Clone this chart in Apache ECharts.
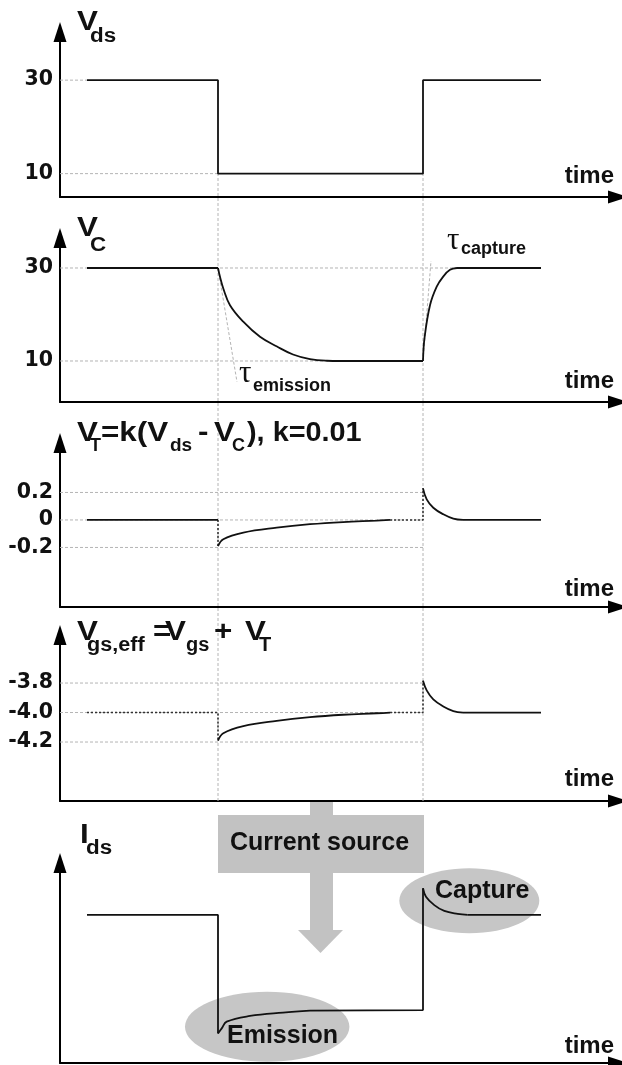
<!DOCTYPE html>
<html>
<head>
<meta charset="utf-8">
<script src="https://cdn.jsdelivr.net/npm/echarts@6/dist/echarts.min.js"></script>
<style>
  html, body { margin: 0; padding: 0; background: #fff; }
  #chart { width: 622px; height: 1065px; }
</style>
</head>
<body>
<div id="chart"></div>
<script>
// Shared time axis (arbitrary units)
const timeRange = [0, 109.6];

// V_ds: drain voltage pulse
const vdsTime  = [5.4, 31.6, 31.6, 72.6, 72.6, 96.2];
const vdsValue = [30, 30, 10, 10, 30, 30];
const vdsTicks = [10, 30];

// V_C: trap voltage following V_ds with emission / capture delays
const vcTime  = [5.4, 31.6, 32.0, 32.66, 34.0, 36.6, 40.0, 43.4, 46.6, 50.0, 53.4, 56.0, 72.6, 72.9, 74.0, 75.34, 76.6, 78.0, 79.4, 96.2];
const vcValue = [30, 30, 28.1, 25.6, 22.0, 18.5, 15.2, 13.1, 11.4, 10.4, 10.05, 10, 10, 14.9, 22.0, 26.0, 28.1, 29.6, 30, 30];
const vcTicks = [10, 30];
// tangents marking the time constants
const tauEmissionLine = [[31.6, 30], [35.4, 5.5]];
const tauCaptureLine  = [[72.6, 10], [74.2, 31.5]];

// V_T = k (V_ds - V_C)
const vtTime  = [5.4, 31.6, 31.6, 32.66, 36.66, 43.34, 50.0, 56.6, 63.34, 66.0, 72.6, 72.6, 73.34, 74.66, 76.66, 78.66, 80.6, 96.2];
const vtValue = [0, 0, -0.19, -0.14, -0.092, -0.056, -0.031, -0.015, -0.005, 0, 0, 0.23, 0.15, 0.089, 0.041, 0.01, 0, 0];
const vtTicks = [-0.2, 0, 0.2];

// V_gs,eff = V_gs + V_T
const vgsTime  = [5.4, 31.6, 31.6, 32.66, 36.66, 43.34, 50.0, 56.6, 63.34, 66.0, 72.6, 72.6, 73.34, 74.66, 76.66, 78.66, 80.6, 96.2];
const vgsValue = [-4, -4, -4.19, -4.14, -4.092, -4.056, -4.031, -4.015, -4.005, -4, -4, -3.785, -3.85, -3.911, -3.959, -3.99, -4, -4];
const vgsTicks = [-4.2, -4.0, -3.8];

// I_ds (arbitrary units)
const idsTime  = [5.4, 31.6, 31.6, 32.34, 33.34, 38.0, 44.6, 50.0, 72.6, 72.6, 73.2, 74.86, 76.86, 79.54, 81.54, 96.2];
const idsValue = [7.05, 7.05, 1.41, 1.65, 1.97, 2.24, 2.40, 2.49, 2.52, 8.32, 7.92, 7.52, 7.24, 7.10, 7.05, 7.05];

// ---- layout ----
const GRID_LEFT = 60, GRID_RIGHT = 14;
const panels = [
  { top: 42,  height: 155, yMin: 5,      yMax: 38.16,  ticks: vdsTicks, fmt: v => String(v) },
  { top: 248, height: 154, yMin: 1.18,   yMax: 34.3,   ticks: vcTicks,  fmt: v => String(v) },
  { top: 453, height: 154, yMin: -0.633, yMax: 0.487,  ticks: vtTicks,  fmt: v => v === 0 ? '0' : v.toFixed(1) },
  { top: 645, height: 156, yMin: -4.6,   yMax: -3.542, ticks: vgsTicks, fmt: v => v.toFixed(1) },
  { top: 873, height: 190, yMin: 0,      yMax: 9.048,  ticks: [],       fmt: v => '' }
];
const overlay = { top: 173.5, height: 627.5 }; // spans panels 1-4 for the switching guides

const INK = '#111';
const GUIDE = { color: '#b4b4b4', width: 1, type: [3, 2] };
const axisArrow = {
  show: true,
  onZero: false,
  symbol: ['none', 'triangle'],
  symbolSize: [13, 20],
  symbolOffset: [0, 10],
  lineStyle: { color: '#000', width: 2 }
};

const grids = [], xAxes = [], yAxes = [];
panels.forEach(p => {
  grids.push({ left: GRID_LEFT, right: GRID_RIGHT, top: p.top, height: p.height });
  xAxes.push({
    type: 'value', gridIndex: grids.length - 1, min: timeRange[0], max: timeRange[1],
    axisLine: axisArrow, axisTick: { show: false }, axisLabel: { show: false }, splitLine: { show: false }
  });
  yAxes.push({
    type: 'value', gridIndex: grids.length - 1, min: p.yMin, max: p.yMax,
    axisLine: axisArrow, axisTick: { show: false }, splitLine: { show: false },
    axisLabel: {
      show: p.ticks.length > 0,
      customValues: p.ticks,
      formatter: p.fmt,
      margin: 7,
      color: INK,
      fontFamily: '"DejaVu Sans", sans-serif',
      fontWeight: 'bold',
      fontSize: 20.5
    }
  });
});
grids.push({ left: GRID_LEFT, right: GRID_RIGHT, top: overlay.top, height: overlay.height });
xAxes.push({ type: 'value', gridIndex: 5, min: timeRange[0], max: timeRange[1], show: false });
yAxes.push({ type: 'value', gridIndex: 5, min: 0, max: 1, show: false });

// ---- series helpers ----
function pick(time, value, a, b) {
  const out = [];
  for (let i = a; i <= b; i++) out.push([time[i], value[i]]);
  return out;
}
function trace(gi, data, kind) {
  const dotted = kind === 'dotted';
  return {
    type: 'line', xAxisIndex: gi, yAxisIndex: gi, data,
    symbol: 'none', silent: true, animation: false,
    smooth: kind === 'curve' ? 0.4 : false,
    lineStyle: dotted ? { color: '#333', width: 1.6, type: [2, 2] } : { color: INK, width: 1.8 },
    z: dotted ? 3 : 4
  };
}
function guide(gi, data) {
  return {
    type: 'line', xAxisIndex: gi, yAxisIndex: gi, data,
    symbol: 'none', silent: true, animation: false, lineStyle: GUIDE, z: 1
  };
}

const series = [];
// guides
series.push(guide(0, [[timeRange[0], vdsTicks[1]], [vdsTime[0], vdsTicks[1]]]));
series.push(guide(0, [[timeRange[0], vdsTicks[0]], [vdsTime[2], vdsTicks[0]]]));
series.push(guide(1, [[timeRange[0], vcTicks[1]], [vcTime[18], vcTicks[1]]]));
series.push(guide(1, [[timeRange[0], vcTicks[0]], [vcTime[12], vcTicks[0]]]));
series.push(guide(1, tauEmissionLine));
series.push(guide(1, tauCaptureLine));
vtTicks.forEach(t => series.push(guide(2, [[timeRange[0], t], [vtTime[10], t]])));
vgsTicks.forEach(t => series.push(guide(3, [[timeRange[0], t], [vgsTime[10], t]])));
[vdsTime[1], vdsTime[3]].forEach(t => series.push(guide(5, [[t, 0], [t, 1]])));

// V_ds
series.push(trace(0, pick(vdsTime, vdsValue, 0, 5), 'solid'));
// V_C
series.push(trace(1, pick(vcTime, vcValue, 0, 1), 'solid'));
series.push(trace(1, pick(vcTime, vcValue, 1, 11), 'curve'));
series.push(trace(1, pick(vcTime, vcValue, 11, 12), 'solid'));
series.push(trace(1, pick(vcTime, vcValue, 12, 18), 'curve'));
series.push(trace(1, pick(vcTime, vcValue, 18, 19), 'solid'));
// V_T
series.push(trace(2, pick(vtTime, vtValue, 0, 1), 'solid'));
series.push(trace(2, pick(vtTime, vtValue, 1, 2), 'dotted'));
series.push(trace(2, pick(vtTime, vtValue, 2, 9), 'curve'));
series.push(trace(2, pick(vtTime, vtValue, 9, 11), 'dotted'));
series.push(trace(2, pick(vtTime, vtValue, 11, 16), 'curve'));
series.push(trace(2, pick(vtTime, vtValue, 16, 17), 'solid'));
// V_gs,eff
series.push(trace(3, pick(vgsTime, vgsValue, 0, 2), 'dotted'));
series.push(trace(3, pick(vgsTime, vgsValue, 2, 9), 'curve'));
series.push(trace(3, pick(vgsTime, vgsValue, 9, 11), 'dotted'));
series.push(trace(3, pick(vgsTime, vgsValue, 11, 16), 'curve'));
series.push(trace(3, pick(vgsTime, vgsValue, 16, 17), 'solid'));
// I_ds
series.push(trace(4, pick(idsTime, idsValue, 0, 2), 'solid'));
series.push(trace(4, pick(idsTime, idsValue, 2, 7), 'curve'));
series.push(trace(4, pick(idsTime, idsValue, 7, 9), 'solid'));
series.push(trace(4, pick(idsTime, idsValue, 9, 14), 'curve'));
series.push(trace(4, pick(idsTime, idsValue, 14, 15), 'solid'));

// ---- text and annotation shapes ----
const SANS = '"Liberation Sans", Arial, sans-serif';
const SERIF = '"Liberation Serif", "Times New Roman", serif';
function txt(str, x, y, size, opt) {
  opt = opt || {};
  const align = opt.align || 'left';
  return {
    type: 'text', x, y, z: 100, silent: true,
    scaleX: opt.sx || 1,
    style: {
      text: str, fill: INK,
      font: (opt.weight || 'bold') + ' ' + size + 'px ' + (opt.family || SANS),
      align, verticalAlign: 'middle', textAlign: align, textVerticalAlign: 'middle'
    }
  };
}
// axis titles are set slightly wide
const MAIN = 28, SUB = 20, W = { sx: 1.12 };
const graphics = [
  // V_ds
  txt('V', 77, 22.3, MAIN, W), txt('ds', 90, 36.1, SUB, W),
  // V_C
  txt('V', 77, 228.3, MAIN, W), txt('C', 90, 245.1, SUB, W),
  // V_T = k(V_ds - V_C), k=0.01
  txt('V', 77, 433.3, MAIN, W), txt('T', 90, 446.1, 18),
  txt('=k(V', 101, 433.3, MAIN, W), txt('ds', 170, 446.1, 19),
  txt('-', 198, 433.3, MAIN, W), txt('V', 214, 433.3, MAIN, W), txt('C', 232, 446.1, 18),
  txt('), k=0.01', 247, 433.3, MAIN, { sx: 1.03 }),
  // V_gs,eff = V_gs + V_T
  txt('V', 77, 632.3, MAIN, W), txt('gs,eff', 87, 645.1, SUB, { sx: 1.08 }),
  txt('=', 153, 632.3, MAIN, W), txt('V', 165, 632.3, MAIN, W), txt('gs', 186, 645.1, SUB),
  txt('+', 214, 632.3, MAIN, W), txt('V', 245, 632.3, MAIN, W), txt('T', 259, 645.1, SUB),
  // I_ds
  txt('I', 80, 835.3, MAIN, W), txt('ds', 86, 848.1, SUB, W),
  // time labels
  txt('time', 614, 176.7, 24, { align: 'right' }),
  txt('time', 614, 381.7, 24, { align: 'right' }),
  txt('time', 614, 589.7, 24, { align: 'right' }),
  txt('time', 614, 779.7, 24, { align: 'right' }),
  txt('time', 614, 1046.7, 24, { align: 'right' }),
  // time constants
  txt('\u03C4', 239, 373.5, 31, { weight: 'normal', family: SERIF }),
  txt('emission', 253, 385.8, 18),
  txt('\u03C4', 447, 240.5, 31, { weight: 'normal', family: SERIF }),
  txt('capture', 461, 248.8, 18),
  // current source arrow
  { type: 'rect', z: 0, silent: true, shape: { x: 310, y: 802, width: 23, height: 129 }, style: { fill: '#c2c2c2' } },
  { type: 'polygon', z: 0, silent: true, shape: { points: [[298, 930], [343, 930], [320.5, 953]] }, style: { fill: '#c2c2c2' } },
  { type: 'rect', z: 0, silent: true, shape: { x: 218, y: 815, width: 206, height: 58 }, style: { fill: '#c2c2c2' } },
  txt('Current source', 319.5, 843.3, 25, { align: 'center' }),
  // emission / capture highlights on I_ds
  { type: 'ellipse', z: 0, silent: true, shape: { cx: 267.2, cy: 1026.7, rx: 82.2, ry: 35 }, style: { fill: '#c6c6c6' } },
  { type: 'ellipse', z: 0, silent: true, shape: { cx: 469.3, cy: 900.8, rx: 70, ry: 32.5 }, style: { fill: '#c6c6c6' } },
  txt('Emission', 227, 1036.3, 25),
  txt('Capture', 435, 891.3, 25)
];

const chart = echarts.init(document.getElementById('chart'), null, { renderer: 'canvas' });
chart.setOption({
  backgroundColor: '#fff',
  animation: false,
  grid: grids,
  xAxis: xAxes,
  yAxis: yAxes,
  series: series,
  graphic: graphics
});
</script>
</body>
</html>
